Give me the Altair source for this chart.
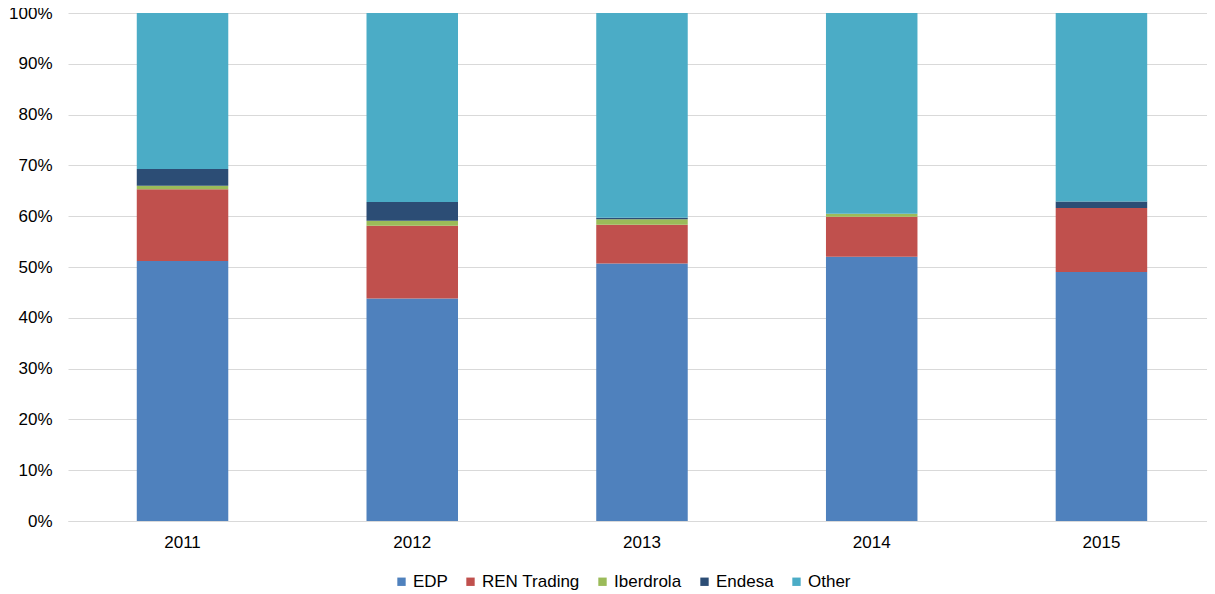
import altair as alt
import pandas as pd

years = ["2011", "2012", "2013", "2014", "2015"]
series = ["EDP", "REN Trading", "Iberdrola", "Endesa", "Other"]
colors = ["#4F81BD", "#C0504D", "#9BBB59", "#2C4D75", "#4BACC6"]

edp = [51.2, 43.8, 50.7, 52.0, 49.0]
ren = [14.1, 14.3, 7.6, 7.9, 12.6]
iberdrola = [0.7, 1.0, 1.1, 0.6, 0.0]
endesa = [3.3, 3.7, 0.3, 0.0, 1.3]
other = [30.7, 37.2, 40.3, 39.5, 37.1]

vals = [edp, ren, iberdrola, endesa, other]
rows = []
for si, (name, arr) in enumerate(zip(series, vals)):
    for y, v in zip(years, arr):
        rows.append({"year": y, "series": name, "value": v / 100.0, "order": si})
df = pd.DataFrame(rows)

font = "Liberation Sans"

chart = (
    alt.Chart(df)
    .mark_bar(size=91.5)
    .encode(
        x=alt.X("year:N", title=None, sort=years,
                scale=alt.Scale(paddingInner=0.6, paddingOuter=0.279, align=0.535),
                axis=alt.Axis(labelAngle=0, ticks=False, domain=True, domainColor="#d9d9d9",
                              labelPadding=13, labelFontSize=17, labelFont=font,
                              labelColor="#000000", grid=False)),
        y=alt.Y("value:Q", title=None, stack="zero",
                scale=alt.Scale(domain=[0, 1], nice=False),
                axis=alt.Axis(format=".0%", values=[i / 10 for i in range(11)], ticks=False,
                              domain=False, labelPadding=16, labelFontSize=17, labelFont=font,
                              labelColor="#000000", gridColor="#d9d9d9", gridWidth=1)),
        color=alt.Color("series:N", sort=series,
                        scale=alt.Scale(domain=series, range=colors),
                        legend=alt.Legend(title=None, orient="none", direction="horizontal",
                                          legendX=325, legendY=560,
                                          symbolType="square", symbolSize=70, symbolStrokeWidth=0,
                                          labelFontSize=17, labelFont=font, labelColor="#000000",
                                          labelOffset=3, columnPadding=14)),
        order=alt.Order("order:Q", sort="ascending"),
    )
    .properties(
        width=1139,
        height=508,
        padding={"left": 60, "top": 5, "right": 0, "bottom": 78},
        autosize=alt.AutoSizeParams(type="none"),
        background="#ffffff",
    )
    .configure_view(stroke=None)
)

chart.save("out.html", embed_options={"renderer": "svg", "actions": False})
